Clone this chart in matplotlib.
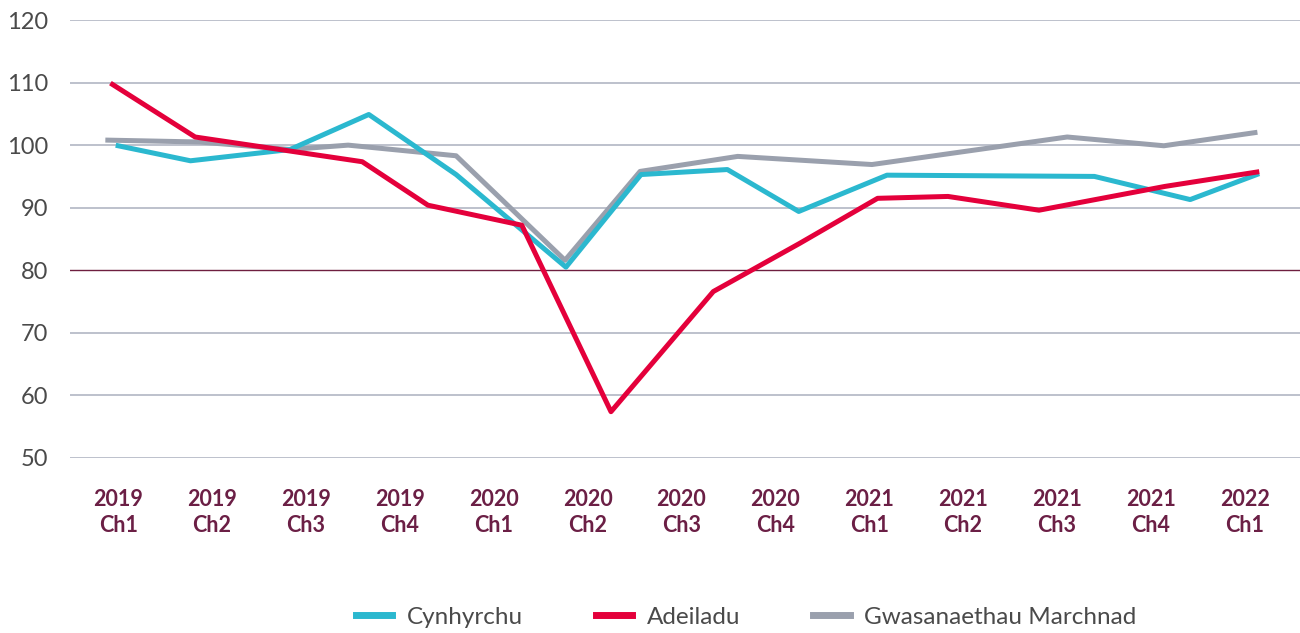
import matplotlib
matplotlib.use('Agg')
import matplotlib.pyplot as plt

# category labels (quarters)
quarters = ['2019\nCh1', '2019\nCh2', '2019\nCh3', '2019\nCh4',
            '2020\nCh1', '2020\nCh2', '2020\nCh3', '2020\nCh4',
            '2021\nCh1', '2021\nCh2', '2021\nCh3', '2021\nCh4',
            '2022\nCh1']

# each series (x in category units)
cyn_x = [0, 0.77, 1.83, 2.67, 3.60, 4.77, 5.57, 6.49, 7.25, 8.19, 10.40, 11.42, 12.13]
cyn_y = [99.9, 97.5, 99.3, 104.9, 95.3, 80.5, 95.3, 96.1, 89.4, 95.2, 95.0, 91.3, 95.3]

ade_x = [-0.06, 0.82, 2.60, 3.30, 4.30, 5.25, 6.34, 7.26, 8.09, 8.84, 9.81, 11.15, 12.13]
ade_y = [109.7, 101.3, 97.35, 90.4, 87.2, 57.4, 76.6, 84.3, 91.5, 91.8, 89.6, 93.4, 95.7]

gwa_x = [-0.11, 0.87, 1.83, 2.45, 3.60, 4.76, 5.56, 6.60, 8.03, 9.07, 10.11, 11.14, 12.11]
gwa_y = [100.8, 100.5, 99.3, 100.0, 98.3, 81.6, 95.8, 98.2, 96.9, 99.1, 101.3, 99.9, 102.0]

y_ticks = [50, 60, 70, 80, 90, 100, 110, 120]

maroon = '#6b1f45'
text_grey = '#4a4a4a'
fig = plt.figure(figsize=(13, 6.33), dpi=100)
ax = fig.add_axes([0.054, 0.2765, 0.946, 0.6919])

for t in y_ticks:
    if t == 80:
        ax.axhline(t, color='#6e1f3f', linewidth=1.0, zorder=1)
    else:
        ax.axhline(t, color='#b8bcc8', linewidth=1.3, zorder=1)

ax.plot(cyn_x, cyn_y, color='#2bb8cf', linewidth=3.6, label='Cynhyrchu', zorder=3)
ax.plot(ade_x, ade_y, color='#e4003b', linewidth=3.6, label='Adeiladu', zorder=4)
ax.plot(gwa_x, gwa_y, color='#9aa0ad', linewidth=3.6, label='Gwasanaethau Marchnad', zorder=2)

ax.set_ylim(50, 120)
ax.set_xlim(-0.511, 12.59)
ax.set_yticks(y_ticks)
ax.set_yticklabels([str(t) for t in y_ticks], fontsize=17, color=text_grey,
                   family='Lato')
ax.set_xticks(range(len(quarters)))
ax.set_xticklabels(quarters, fontsize=15.5, color=maroon, family='Lato',
                   fontweight='bold', linespacing=1.35)
ax.tick_params(axis='both', length=0)
ax.tick_params(axis='x', pad=22)
ax.tick_params(axis='y', pad=16)
for s in ax.spines.values():
    s.set_visible(False)

handles, labels = ax.get_legend_handles_labels()
leg = fig.legend(handles, labels, loc='center', bbox_to_anchor=(0.574, 1 - 617 / 633),
                 ncol=3, frameon=False, handlelength=1.5, handletextpad=0.6,
                 columnspacing=3.0, prop={'family': 'Lato', 'size': 17.5})
for line in leg.get_lines():
    line.set_linewidth(5)
for txt in leg.get_texts():
    txt.set_color(text_grey)

fig.savefig('out.png', dpi=100)
